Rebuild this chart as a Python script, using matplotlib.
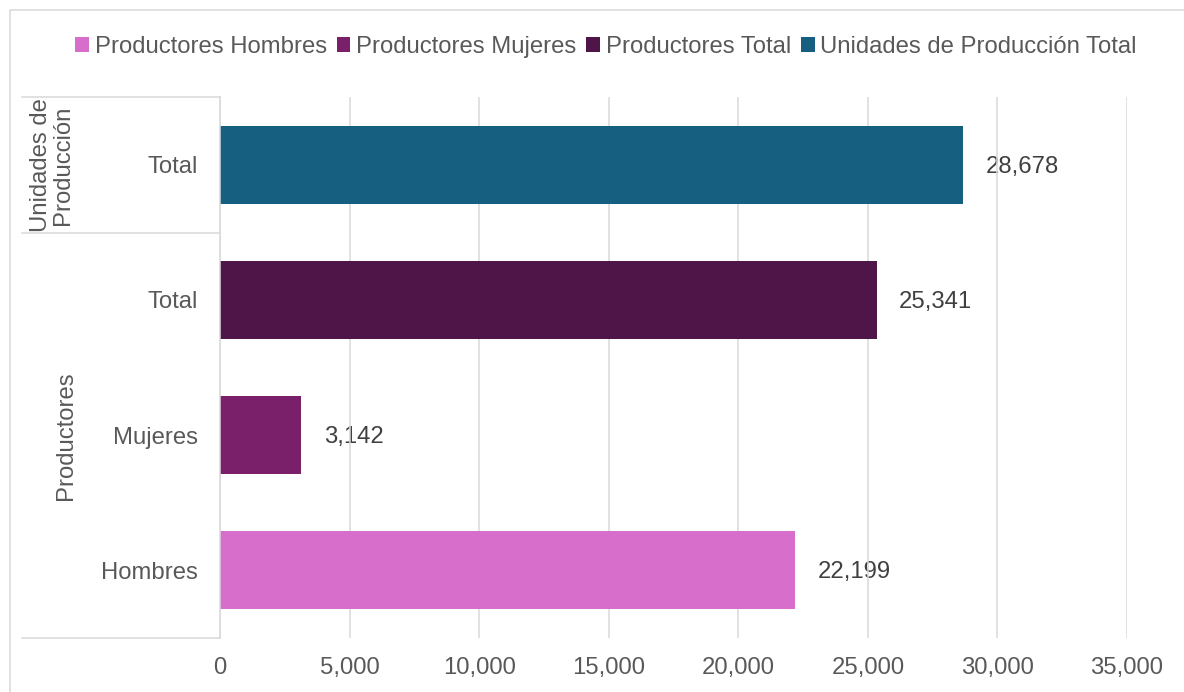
import matplotlib
matplotlib.use("Agg")
import matplotlib.pyplot as plt
from matplotlib.patches import Patch, Rectangle
from matplotlib.lines import Line2D
from matplotlib.ticker import FuncFormatter

plt.rcParams["font.family"] = ["Liberation Sans", "DejaVu Sans"]

# Data (bottom to top)
categories = ["Hombres", "Mujeres", "Total", "Total"]
values = [22199, 3142, 25341, 28678]
series_names = ["Productores Hombres", "Productores Mujeres",
                "Productores Total", "Unidades de Producción Total"]
colors = ["#D86ECC", "#7A1F6A", "#501548", "#175F80"]
group_labels = ["Productores", "Unidades de\nProducción"]
x_ticks = [0, 5000, 10000, 15000, 20000, 25000, 30000, 35000]

FS = 17.2
GRID = "#D9D9D9"
W, H = 1184, 692
fig = plt.figure(figsize=(W / 100, H / 100), dpi=100)

def fx(px):
    return px / W

def fy(py):
    return 1 - py / H

# Plot area
left, right, top, bottom = 220, 1127, 97, 638
ax = fig.add_axes([fx(left), fy(bottom), fx(right - left), fy(top) - fy(bottom)])

pos = list(range(len(values)))
ax.barh(pos, values, height=0.577, color=colors, zorder=2)

ax.set_xlim(x_ticks[0], x_ticks[-1])
ax.set_ylim(-0.5, len(values) - 0.5)
ax.set_xticks(x_ticks)
ax.xaxis.set_major_formatter(FuncFormatter(lambda v, p: f"{int(v):,}"))
ax.set_yticks(pos)
ax.set_yticklabels(categories)
ax.tick_params(axis="both", length=0, labelsize=FS, labelcolor="#595959")
ax.tick_params(axis="y", pad=16)
ax.tick_params(axis="x", pad=14)

ax.grid(axis="x", color=GRID, linewidth=1.1, zorder=1)
ax.set_axisbelow(True)
for s in ["top", "right", "bottom"]:
    ax.spines[s].set_visible(False)
ax.spines["left"].set_color(GRID)
ax.spines["left"].set_linewidth(1.1)

# Value labels
for p, v in zip(pos, values):
    ax.annotate(f"{v:,}", xy=(v, p), xytext=(16, -1.5), textcoords="offset points",
                ha="left", va="center", fontsize=FS, color="#404040", zorder=0.5)

# Multi-level category frame
for ypx in (97, 233, 638):
    fig.add_artist(Line2D([fx(22), fx(220)], [fy(ypx), fy(ypx)],
                          color=GRID, linewidth=1.1))

fig.text(fx(52), fy(165), group_labels[1], rotation=90, ha="center", va="center",
         fontsize=FS, color="#595959", multialignment="center", linespacing=0.95)
fig.text(fx(66), fy(436), group_labels[0], rotation=90, ha="center", va="center",
         fontsize=FS, color="#595959")

# Chart border
fig.add_artist(Rectangle((fx(9.5), -0.02), 1.05, fy(10) + 0.02,
                         transform=fig.transFigure, fill=False,
                         edgecolor=GRID, linewidth=1.1))

# Legend
handles = [Patch(facecolor=c, edgecolor="none") for c in colors]
fig.legend(handles, series_names, loc="center", bbox_to_anchor=(fx(606), fy(47)),
           ncol=4, frameon=False, fontsize=FS, labelcolor="#595959",
           handlelength=0.57, handleheight=0.57, handletextpad=0.24,
           columnspacing=0.42, borderaxespad=0)

fig.savefig("out.png", dpi=100)
